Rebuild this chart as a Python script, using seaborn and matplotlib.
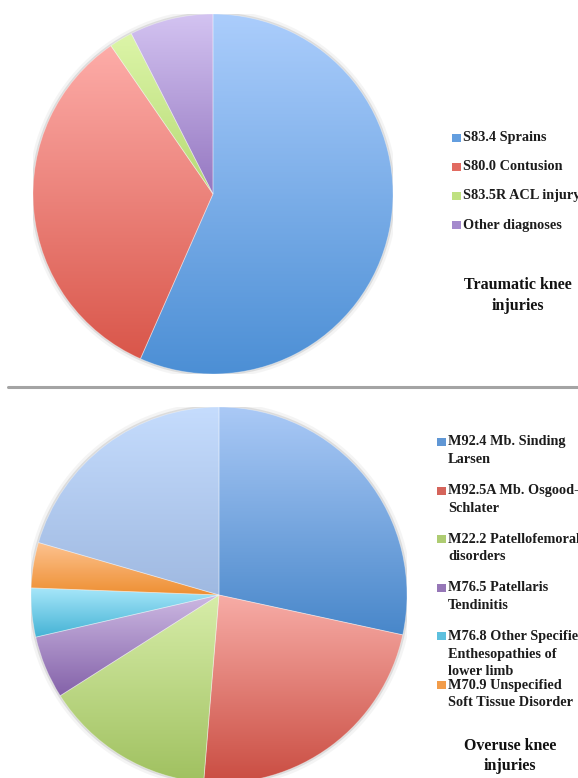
import numpy as np
import matplotlib
matplotlib.use("Agg")
import matplotlib.pyplot as plt
from matplotlib.lines import Line2D
from matplotlib.patches import Rectangle, Circle
import seaborn as sns

# ---- data -----------------------------------------------------------------
traumatic_labels = ["S83.4 Sprains", "S80.0 Contusion", "S83.5R ACL injury", "Other diagnoses"]
traumatic_share = [56.6, 33.8, 2.1, 7.5]
traumatic_light = ["#abcdfc", "#fdaca8", "#dcf5a8", "#d3c3f1"]
traumatic_dark = ["#4c8fd5", "#d9564a", "#b6da74", "#9577c1"]

overuse_labels = [
    "M92.4 Mb. Sinding\nLarsen",
    "M92.5A Mb. Osgood-\nSchlater",
    "M22.2 Patellofemoral\ndisorders",
    "M76.5 Patellaris\nTendinitis",
    "M76.8 Other Specified\nEnthesopathies of\nlower limb",
    "M70.9 Unspecified\nSoft Tissue Disorder",
    "Other diagnoses",
]
overuse_share = [28.4, 22.9, 14.7, 5.4, 4.2, 3.9, 20.5]
overuse_light = ["#aac9f6", "#f7aca6", "#d7eda9", "#ccb8e2", "#a8e7fa", "#fdc390", "#c5dcfd"]
overuse_dark = ["#4887ca", "#ca4d42", "#a0c160", "#8462a9", "#45b3d5", "#ee8f33", "#9fb9e1"]
overuse_in_legend = 6

W, H = 578, 778

sns.set_theme(style="white")
plt.rcParams["font.family"] = ["Liberation Serif", "DejaVu Serif"]

fig = plt.figure(figsize=(W / 100, H / 100), dpi=100)
fig.patch.set_facecolor("white")


def px_box(cx, cy, r):
    """Axes rectangle (figure fraction) for a pie centred at pixel (cx, cy)."""
    return [(cx - r) / W, 1 - (cy + r) / H, 2 * r / W, 2 * r / H]


def shaded_pie(ax, values, light, dark):
    # soft halo behind the disc
    ax.add_patch(Circle((0, 0), 1.025, color="#9a9a9a", alpha=0.10, lw=0, zorder=0))
    ax.add_patch(Circle((0, 0), 1.010, color="#808080", alpha=0.20, lw=0, zorder=0))
    wedges, _ = ax.pie(values, startangle=90, counterclock=False, radius=1,
                       wedgeprops=dict(linewidth=0.6, edgecolor=(1, 1, 1, 0.35)))
    for w, c0, c1 in zip(wedges, light, dark):
        x0, y0, x1, y1 = w.get_path().get_extents().extents
        ramp = np.array(sns.blend_palette([c0, c1], 128))[:, None, :]
        im = ax.imshow(ramp, extent=(x0, x1, y0, y1), origin="upper",
                       aspect="auto", interpolation="bilinear", zorder=1)
        im.set_clip_path(w)
        w.set_facecolor("none")
        w.set_zorder(2)
    ax.set_xlim(-1, 1)
    ax.set_ylim(-1, 1)
    ax.set_aspect("equal")
    ax.axis("off")
    return wedges


LEG_SIZE = 10.3


def legend_item(x, y, color, text):
    # y is the centre of the first text line, in pixels from the top
    fig.add_artist(Rectangle((x / W, 1 - (y + 4) / H), 9 / W, 8 / H,
                             transform=fig.transFigure, color=color, lw=0))
    fig.text((x + 11) / W, 1 - (y - 6.5) / H, text, ha="left", va="top",
             fontsize=LEG_SIZE, fontweight="bold", color="#1c1c1c", linespacing=1.47)


# ---- traumatic knee injuries ----------------------------------------------
ax1 = fig.add_axes(px_box(213, 194, 180))
shaded_pie(ax1, traumatic_share, traumatic_light, traumatic_dark)
for i, lab in enumerate(traumatic_labels):
    mid = sns.blend_palette([traumatic_light[i], traumatic_dark[i]], 5)[3]
    legend_item(452, 138 + 29 * i, mid, lab)
fig.text(518 / W, 1 - 276.5 / H, "Traumatic knee\ninjuries", ha="center", va="top",
         fontsize=11.5, fontweight="bold", color="#111111", linespacing=1.42)

# separator
fig.add_artist(Line2D([8 / W, 1.0], [1 - 387 / H] * 2, transform=fig.transFigure,
                      color="#a4a4a4", lw=2.2))

# ---- overuse knee injuries ------------------------------------------------
ax2 = fig.add_axes(px_box(219, 595, 188))
shaded_pie(ax2, overuse_share, overuse_light, overuse_dark)
for i in range(overuse_in_legend):
    mid = sns.blend_palette([overuse_light[i], overuse_dark[i]], 5)[3]
    legend_item(437, 442 + 48.6 * i, mid, overuse_labels[i])
fig.text(510 / W, 1 - 738.5 / H, "Overuse knee\ninjuries", ha="center", va="top",
         fontsize=11.5, fontweight="bold", color="#111111", linespacing=1.3)

fig.savefig("out.png", dpi=100, facecolor="white")
